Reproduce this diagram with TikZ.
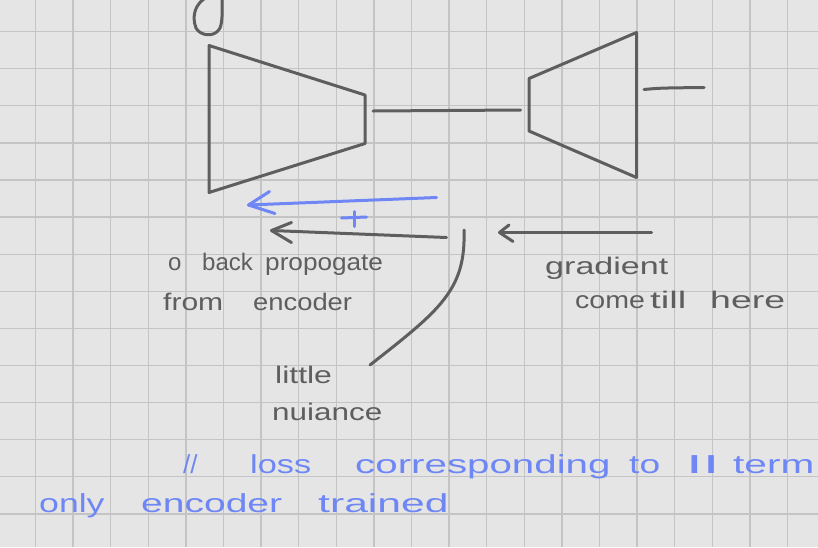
\documentclass[tikz,border=0pt]{standalone}
\usepackage{fontspec}
\usepackage{graphicx}
\setmainfont{Liberation Sans}
\definecolor{bgcol}{HTML}{E5E5E5}
\definecolor{gridcol}{HTML}{C4C4C4}
\definecolor{ink}{HTML}{5E5E5E}
\definecolor{blueink}{HTML}{6E87F5}
\newcommand{\wsx}[2]{\scalebox{#1}[1]{#2}}
\tikzset{
  pen/.style={draw=ink, line width=3pt, line cap=round, line join=round},
  bluepen/.style={draw=blueink, line width=3pt, line cap=round, line join=round},
  gtxt/.style={anchor=base west, inner sep=0pt, text=ink, font=\fontsize{24}{24}\selectfont},
  btxt/.style={anchor=base west, inner sep=0pt, text=blueink, font=\fontsize{26}{26}\selectfont},
}
\begin{document}
\begin{tikzpicture}[x=1pt,y=-1pt]
\fill[bgcol] (0,0) rectangle (818,547);
\useasboundingbox (0,0) rectangle (818,547);
% grid
\foreach \i in {0,...,20} {
  \draw[gridcol, line width=1.3pt] ({35.5+37.6*\i},0) -- ({35.5+37.6*\i},547);
}
\foreach \j in {0,...,13} {
  \draw[gridcol, line width=1.3pt] (0,{31.6+37.1*\j}) -- (818,{31.6+37.1*\j});
}
% loop at top
\draw[pen] (207,-3) .. controls (196,3) and (191,15) .. (196,28)
  .. controls (200,36) and (215,38) .. (220,28)
  .. controls (223,20) and (222,8) .. (222,-3);
% encoder
\coordinate (e1) at (209,45.5);
\coordinate (e2) at (365,95);
\coordinate (e3) at (365,143.5);
\coordinate (e4) at (209,192.5);
\draw[pen] (e1) -- (e2) -- (e3) -- (e4) -- cycle;
% decoder
\coordinate (d1) at (529,78.5);
\coordinate (d2) at (636.5,32.5);
\coordinate (d3) at (636.5,177.5);
\coordinate (d4) at (529,131);
\draw[pen] (d1) -- (d2) -- (d3) -- (d4) -- cycle;
% latent line
\coordinate (l1) at (373,111);
\coordinate (l2) at (520.5,110);
\draw[pen] (l1) -- (l2);
% output line
\coordinate (o1) at (644,89.5);
\coordinate (o2) at (704,87.5);
\draw[pen] (o1) .. controls (660,88) .. (o2);
% blue arrow
\coordinate (ba1) at (436.5,197.5);
\coordinate (ba2) at (248.5,205);
\draw[bluepen] (ba1) -- (ba2);
\draw[bluepen] (269.5,191.5) -- (ba2) -- (275,213.5);
% blue plus
\coordinate (p1) at (341.5,218);
\coordinate (p2) at (366.5,217);
\coordinate (p3) at (354,211.5);
\coordinate (p4) at (354,226.5);
\draw[bluepen] (p1) -- (p2);
\draw[bluepen] (p3) -- (p4);
% grey arrow middle
\coordinate (ga1) at (446.5,237.5);
\coordinate (ga2) at (271.5,230.5);
\draw[pen] (ga1) -- (ga2);
\draw[pen] (291.5,222.5) -- (ga2) -- (291.5,242.5);
% grey arrow right
\coordinate (ra1) at (651.5,232.5);
\coordinate (ra2) at (499.5,232.5);
\draw[pen] (ra1) -- (ra2);
\draw[pen] (509,225) -- (ra2) -- (513,241.5);
% curve to "little nuiance"
\coordinate (c1) at (464,230);
\coordinate (c2) at (370,365);
\draw[pen] (c1) .. controls (466,290) and (440,310) .. (c2);
% grey texts
\node[gtxt] (t1) at (168,270) {o};
\node[gtxt] (t2) at (202,270) {back};
\node[gtxt] (t3) at (265,270) {\wsx{1.09}{propogate}};
\node[gtxt] (t4) at (163,310) {\wsx{1.25}{from}};
\node[gtxt] (t5) at (253,310) {\wsx{1.14}{encoder}};
\node[gtxt] (t6) at (545,274) {\wsx{1.42}{gradient}};
\node[gtxt] (t7) at (575,308) {\wsx{1.19}{come}};
\node[gtxt] (t8) at (650,308) {\wsx{1.6}{till}};
\node[gtxt] (t9) at (710,308) {\wsx{1.56}{here}};
\node[gtxt] (t10) at (275,383) {\wsx{1.33}{little}};
\node[gtxt] (t11) at (272,420) {\wsx{1.31}{nuiance}};
% blue texts
\node[btxt] (b1) at (183,473) {//};
\node[btxt] (b2) at (250,473) {\wsx{1.32}{loss}};
\node[btxt] (b3) at (355,473) {\wsx{1.55}{corresponding}};
\node[btxt] (b4) at (629,473) {\wsx{1.43}{to}};
\node[btxt] (b5) at (686,473) {\wsx{2.3}{II}};
\node[btxt] (b6) at (733,473) {\wsx{1.56}{term}};
\node[btxt] (b7) at (39,512) {\wsx{1.37}{only}};
\node[btxt] (b8) at (141,512) {\wsx{1.5}{encoder}};
\node[btxt] (b9) at (318,512) {\wsx{1.64}{trained}};
\end{tikzpicture}
\end{document}
